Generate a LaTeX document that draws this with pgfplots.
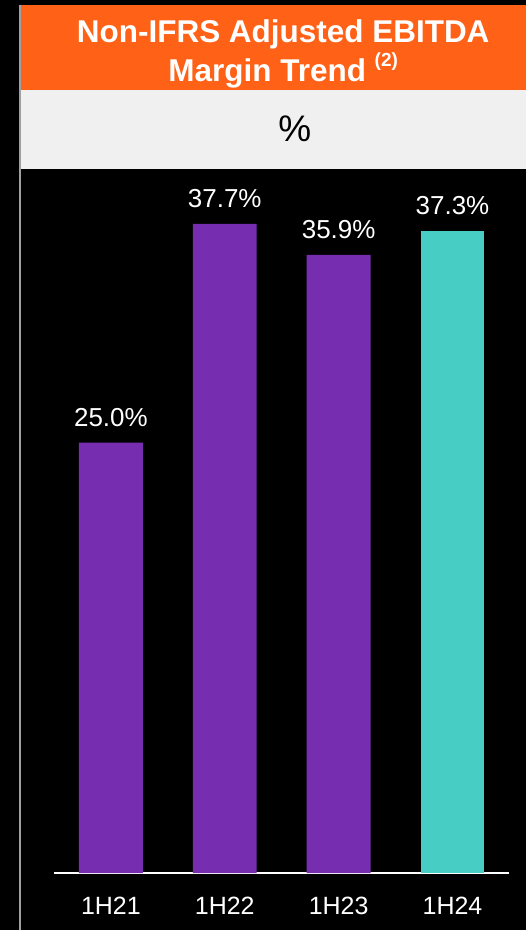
\documentclass[border=0pt]{standalone}
\usepackage{fontspec}
\setmainfont{Liberation Sans}
\usepackage{pgfplots}
\pgfplotsset{compat=1.18}
\definecolor{bgorange}{HTML}{FF6116}
\definecolor{bggray}{HTML}{F0F0F0}
\definecolor{barpurple}{HTML}{772DB0}
\definecolor{barteal}{HTML}{48CDC4}
\definecolor{edgegray}{HTML}{A0A0A0}
\begin{document}
\begin{tikzpicture}
\fill[black] (0pt,0pt) rectangle (527pt,931pt);
\fill[bgorange] (20pt,840.5pt) rectangle (527pt,926pt);
\fill[bggray] (20pt,762pt) rectangle (527pt,840.5pt);
\draw[edgegray, line width=2pt] (20pt,0pt) -- (20pt,926pt);
\node[anchor=base, text=white, inner sep=0pt, font=\bfseries\fontsize{31.5}{36}\selectfont] at (283.5pt,888pt) {Non-IFRS Adjusted EBITDA};
\node[anchor=base, text=white, inner sep=0pt, font=\bfseries\fontsize{31.5}{36}\selectfont] at (283.5pt,849pt) {Margin Trend \raisebox{15pt}{\fontsize{19}{19}\selectfont(2)}};
\node[anchor=base, text=black, inner sep=0pt, font=\fontsize{37}{40}\selectfont] at (295pt,789pt) {\%};
\begin{axis}[
  at={(54pt,57pt)}, anchor=south west,
  scale only axis, width=456pt, height=689.6pt,
  xmin=-0.5, xmax=3.5, ymin=0, ymax=40,
  hide y axis,
  axis x line*=bottom,
  x axis line style={draw=white, line width=1.5pt, -},
  xtick={0,1,2,3}, xticklabels={1H21,1H22,1H23,1H24},
  major tick length=0pt,
  xticklabel style={text=white, font=\fontsize{25}{25}\selectfont, anchor=north, inner sep=0pt, yshift=-23.5pt},
  clip=false,
  ybar, bar width=64pt,
  nodes near coords={\pgfmathprintnumber[fixed,fixed zerofill,precision=1,assume math mode=true]{\pgfplotspointmeta}\%},
  nodes near coords style={text=white, font=\fontsize{26}{26}\selectfont, anchor=south, inner sep=0pt, yshift=16pt},
]
\addplot[fill=barpurple, draw=none, bar shift=0pt] coordinates {(0,25.0) (1,37.7) (2,35.9)};
\addplot[fill=barteal, draw=none, bar shift=0pt] coordinates {(3,37.3)};
\end{axis}
\useasboundingbox (0pt,0pt) rectangle (527pt,931pt);
\end{tikzpicture}
\end{document}
